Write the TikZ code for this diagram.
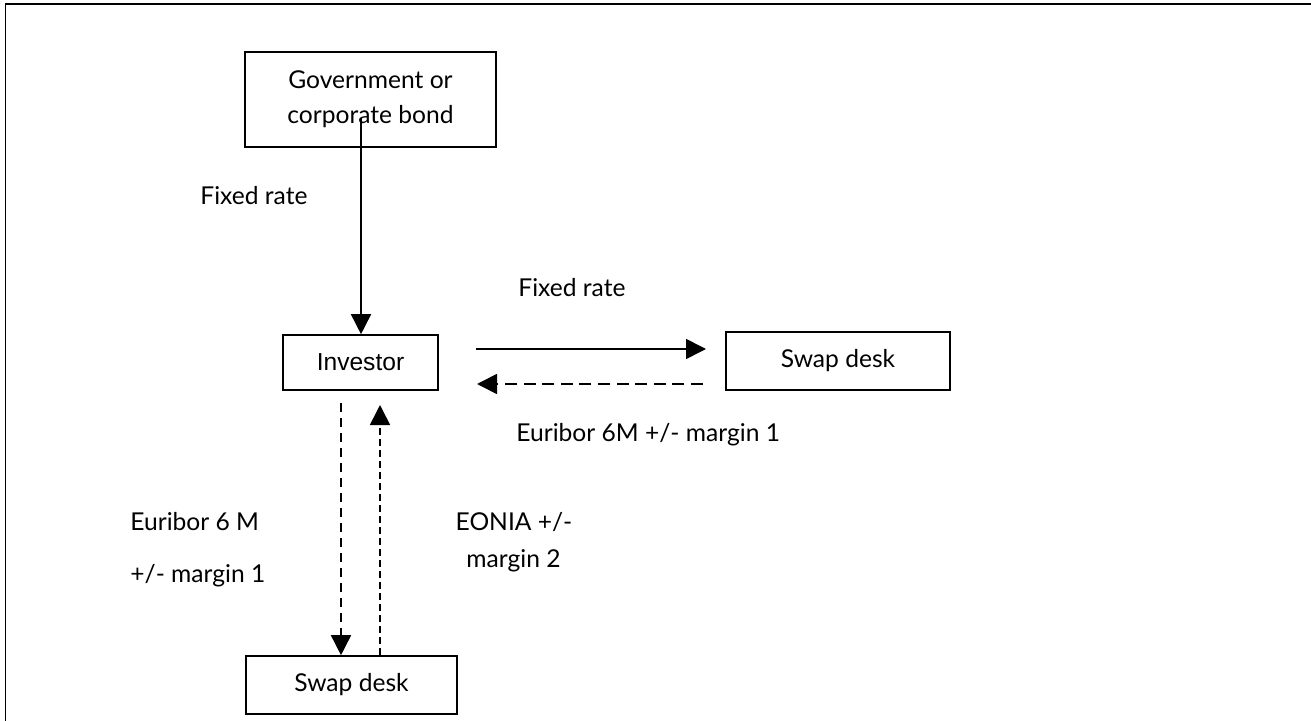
\documentclass[tikz,border=0pt]{standalone}
\usepackage{fontspec}
\setmainfont{Lato}
\newfontfamily\arialfont{Liberation Sans}
\usetikzlibrary{arrows.meta}
\begin{document}
\begin{tikzpicture}[x=0.5pt,y=-0.5pt,
  box/.style={draw, line width=0.8pt, inner sep=0pt, align=center},
  lbl/.style={inner sep=0pt},
  tip/.style={-{Triangle[length=10pt,width=10pt]}},
  ln/.style={line width=0.8pt},
  dashA/.style={dash pattern=on 6pt off 3.3pt},
  dashB/.style={dash pattern=on 4.7pt off 2.8pt},
  dashC/.style={dash pattern=on 3.5pt off 2pt}]
\useasboundingbox (0,0) rectangle (1311,721);
\fontsize{12.3}{17.5}\selectfont
% frame
\coordinate (f1) at (5.5,721);
\coordinate (f2) at (5.5,4);
\coordinate (f3) at (1311,4);
\draw[ln] (f1) -- (f2) -- (f3);
% boxes
\node[box, minimum width=125.5pt, minimum height=47.5pt] (gov) at (370.5,99.5) {Government or\\corporate bond};
\node[box, minimum width=77.5pt, minimum height=27.5pt, font=\arialfont\fontsize{12.3}{14}\selectfont] (inv) at (360.5,362.5) {Investor};
\node[box, minimum width=112pt, minimum height=29pt] (sr) at (838,361) {Swap desk};
\node[box, minimum width=105.5pt, minimum height=29pt] (sb) at (351.5,685) {Swap desk};
% connectors
\coordinate (g1) at (361,118);
\draw[ln,tip] (g1) -- (g1 |- inv.north);
\coordinate (a1) at (476,349);
\coordinate (a2) at (706,349);
\draw[ln,tip] (a1) -- (a2);
\coordinate (b1) at (703,384);
\coordinate (b2) at (477,384);
\draw[ln,tip,dashA] (b1) -- (b2);
\coordinate (c1) at (341,403);
\draw[ln,tip,dashB] (c1) -- (c1 |- sb.north);
\coordinate (d1) at (380,405);
\draw[ln,tip,dashC] (d1 |- sb.north) -- (d1);
% labels
\node[lbl, anchor=base west] (fr1) at (200,205) {Fixed rate};
\node[lbl, anchor=base west] (fr2) at (518,297) {Fixed rate};
\node[lbl, anchor=base west] (eu1) at (516,441) {Euribor 6M +/- margin 1};
\node[lbl, anchor=base west] (eu2) at (130,530) {Euribor 6 M};
\node[lbl, anchor=base west] (eu3) at (130,582) {+/- margin 1};
\node[lbl, anchor=base] (eo1) at (514,530) {EONIA +/-};
\node[lbl, anchor=base] (eo2) at (513.5,567) {margin 2};
\end{tikzpicture}
\end{document}
